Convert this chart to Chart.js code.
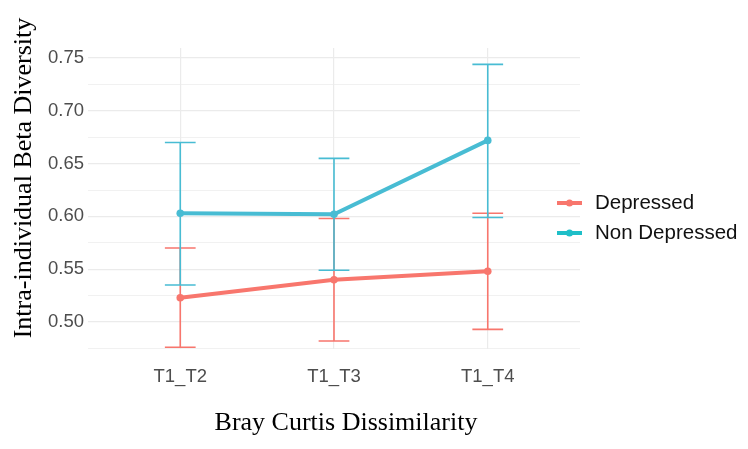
<!DOCTYPE html>
<html>
<head>
<meta charset="utf-8">
<script src="https://cdn.jsdelivr.net/npm/chart.js@4.4.1/dist/chart.umd.min.js"></script>
<style>
  html, body { margin: 0; padding: 0; background: #fff; }
  #wrap { width: 748px; height: 449px; position: relative; }
</style>
</head>
<body>
<div id="wrap"><canvas id="grafico"></canvas></div>
<script>
const categorias = ["T1_T2", "T1_T3", "T1_T4"];

const depressedMedia = [0.523, 0.540, 0.548];
const depressedMin = [0.476, 0.482, 0.493];
const depressedMax = [0.570, 0.598, 0.603];

const nonDepMedia = [0.603, 0.602, 0.672];
const nonDepMin = [0.535, 0.549, 0.599];
const nonDepMax = [0.670, 0.655, 0.744];

const yTicks = [0.475, 0.50, 0.525, 0.55, 0.575, 0.60, 0.625, 0.65, 0.675, 0.70, 0.725, 0.75];

const corDep = "#f8766d";
const corNonLinha = "#48bcd3";
const corNonLegenda = "#1fbfc8";

const sans = "'Liberation Sans', Arial, sans-serif";
const serif = "'Liberation Serif', 'Times New Roman', serif";

function pontos(valores) {
  return valores.map((v, i) => ({ x: i + 1, y: v }));
}

// barras de erro desenhadas a partir das escalas
const errorBars = {
  id: "errorBars",
  beforeDatasetsDraw(chart) {
    const { ctx, scales: { x, y } } = chart;
    const series = [
      { min: depressedMin, max: depressedMax, cor: corDep },
      { min: nonDepMin, max: nonDepMax, cor: corNonLinha }
    ];
    ctx.save();
    ctx.lineWidth = 1.6;
    series.forEach(s => {
      ctx.strokeStyle = s.cor;
      s.min.forEach((lo, i) => {
        const hi = s.max[i];
        const cx = x.getPixelForValue(i + 1);
        const x0 = x.getPixelForValue(i + 1 - 0.1);
        const x1 = x.getPixelForValue(i + 1 + 0.1);
        const yLo = y.getPixelForValue(lo);
        const yHi = y.getPixelForValue(hi);
        ctx.beginPath();
        ctx.moveTo(cx, yLo); ctx.lineTo(cx, yHi);
        ctx.moveTo(x0, yLo); ctx.lineTo(x1, yLo);
        ctx.moveTo(x0, yHi); ctx.lineTo(x1, yHi);
        ctx.stroke();
      });
    });
    ctx.restore();
  }
};

// titulos dos eixos e legenda
const extras = {
  id: "extras",
  afterDraw(chart) {
    const { ctx } = chart;
    ctx.save();
    ctx.fillStyle = "#000";
    ctx.font = "26px " + serif;
    ctx.textAlign = "center";
    ctx.textBaseline = "alphabetic";
    ctx.fillText("Bray Curtis Dissimilarity", 346, 430);

    ctx.translate(31, 178);
    ctx.rotate(-Math.PI / 2);
    ctx.fillText("Intra-individual Beta Diversity", 0, 0);
    ctx.restore();

    const itens = [
      { label: "Depressed", cor: corDep, y: 203 },
      { label: "Non Depressed", cor: corNonLegenda, y: 233 }
    ];
    ctx.save();
    itens.forEach(it => {
      ctx.strokeStyle = it.cor;
      ctx.fillStyle = it.cor;
      ctx.lineWidth = 4;
      ctx.beginPath();
      ctx.moveTo(557, it.y);
      ctx.lineTo(582, it.y);
      ctx.stroke();
      ctx.beginPath();
      ctx.arc(569.5, it.y, 3.5, 0, Math.PI * 2);
      ctx.fill();
      ctx.fillStyle = "#111";
      ctx.font = "20.5px " + sans;
      ctx.textAlign = "left";
      ctx.textBaseline = "middle";
      ctx.fillText(it.label, 595, it.y);
    });
    ctx.restore();
  }
};

const ctx = document.getElementById("grafico").getContext("2d");

new Chart(ctx, {
  type: "line",
  data: {
    datasets: [
      {
        label: "Depressed",
        data: pontos(depressedMedia),
        borderColor: corDep,
        backgroundColor: corDep,
        borderWidth: 4,
        pointRadius: 3.8,
        pointBorderWidth: 0,
        tension: 0
      },
      {
        label: "Non Depressed",
        data: pontos(nonDepMedia),
        borderColor: corNonLinha,
        backgroundColor: corNonLinha,
        borderWidth: 4,
        pointRadius: 3.8,
        pointBorderWidth: 0,
        tension: 0
      }
    ]
  },
  options: {
    responsive: true,
    maintainAspectRatio: false,
    animation: false,
    layout: { padding: { left: 0, top: 48, right: 168, bottom: 0 } },
    plugins: {
      legend: { display: false },
      tooltip: { enabled: false }
    },
    scales: {
      x: {
        type: "linear",
        min: 0.4,
        max: 3.6,
        afterBuildTicks: scale => {
          scale.ticks = categorias.map((c, i) => ({ value: i + 1 }));
        },
        afterFit: scale => { scale.height = 100; },
        grid: { color: "#ebebeb", lineWidth: 1.2, drawTicks: false },
        border: { display: false },
        ticks: {
          padding: 17,
          color: "#4d4d4d",
          font: { family: sans, size: 18.5 },
          callback: v => categorias[v - 1] || ""
        }
      },
      y: {
        min: 0.4744,
        max: 0.7595,
        afterBuildTicks: scale => {
          scale.ticks = yTicks.map(v => ({ value: v }));
        },
        afterFit: scale => { scale.width = 88; },
        grid: {
          color: "#ebebeb",
          drawTicks: false,
          lineWidth: c => (Math.round(c.tick.value * 1000) % 50 === 0 ? 1.2 : 0.7)
        },
        border: { display: false },
        ticks: {
          padding: 4,
          color: "#4d4d4d",
          font: { family: sans, size: 18.5 },
          callback: v => (Math.round(v * 1000) % 50 === 0 ? v.toFixed(2) : "")
        }
      }
    }
  },
  plugins: [errorBars, extras]
});
</script>
</body>
</html>
